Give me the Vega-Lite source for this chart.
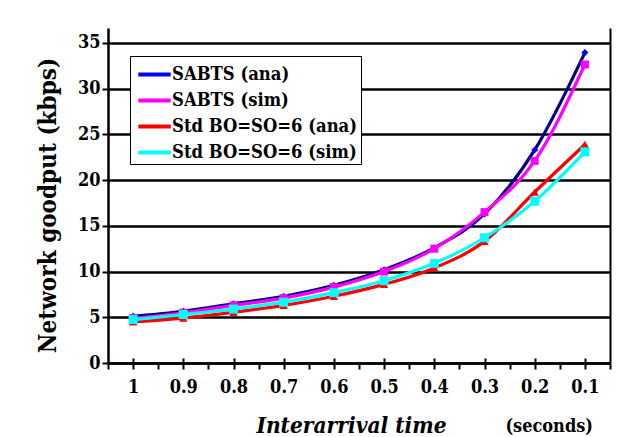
{
  "$schema": "https://vega.github.io/schema/vega-lite/v6.json",
  "width": 502,
  "height": 335,
  "autosize": "none",
  "padding": {"left": 108, "top": 28, "right": 24, "bottom": 74},
  "background": "white",
  "title": {"text": "(seconds)", "orient": "bottom", "anchor": "end", "frame": "group", "font": "DejaVu Serif Condensed, DejaVu Serif", "fontSize": 18, "fontWeight": "bold", "color": "black", "dx": -17, "dy": -19, "offset": 0},
  "data": {"values": [
    {"x": 1, "series": "SABTS (ana)", "y": 5.11},
    {"x": 0.9, "series": "SABTS (ana)", "y": 5.66},
    {"x": 0.8, "series": "SABTS (ana)", "y": 6.47},
    {"x": 0.7, "series": "SABTS (ana)", "y": 7.3},
    {"x": 0.6, "series": "SABTS (ana)", "y": 8.5},
    {"x": 0.5, "series": "SABTS (ana)", "y": 10.2},
    {"x": 0.4, "series": "SABTS (ana)", "y": 12.6},
    {"x": 0.3, "series": "SABTS (ana)", "y": 16.3},
    {"x": 0.2, "series": "SABTS (ana)", "y": 23.3},
    {"x": 0.1, "series": "SABTS (ana)", "y": 33.95},
    {"x": 1, "series": "SABTS (sim)", "y": 4.9},
    {"x": 0.9, "series": "SABTS (sim)", "y": 5.5},
    {"x": 0.8, "series": "SABTS (sim)", "y": 6.3},
    {"x": 0.7, "series": "SABTS (sim)", "y": 7.1},
    {"x": 0.6, "series": "SABTS (sim)", "y": 8.3},
    {"x": 0.5, "series": "SABTS (sim)", "y": 10.0},
    {"x": 0.4, "series": "SABTS (sim)", "y": 12.5},
    {"x": 0.3, "series": "SABTS (sim)", "y": 16.5},
    {"x": 0.2, "series": "SABTS (sim)", "y": 22.1},
    {"x": 0.1, "series": "SABTS (sim)", "y": 32.65},
    {"x": 1, "series": "Std BO=SO=6 (ana)", "y": 4.5},
    {"x": 0.9, "series": "Std BO=SO=6 (ana)", "y": 4.9},
    {"x": 0.8, "series": "Std BO=SO=6 (ana)", "y": 5.55},
    {"x": 0.7, "series": "Std BO=SO=6 (ana)", "y": 6.3},
    {"x": 0.6, "series": "Std BO=SO=6 (ana)", "y": 7.3},
    {"x": 0.5, "series": "Std BO=SO=6 (ana)", "y": 8.6},
    {"x": 0.4, "series": "Std BO=SO=6 (ana)", "y": 10.4},
    {"x": 0.3, "series": "Std BO=SO=6 (ana)", "y": 13.3},
    {"x": 0.2, "series": "Std BO=SO=6 (ana)", "y": 18.7},
    {"x": 0.1, "series": "Std BO=SO=6 (ana)", "y": 23.9},
    {"x": 1, "series": "Std BO=SO=6 (sim)", "y": 4.75},
    {"x": 0.9, "series": "Std BO=SO=6 (sim)", "y": 5.3},
    {"x": 0.8, "series": "Std BO=SO=6 (sim)", "y": 5.9},
    {"x": 0.7, "series": "Std BO=SO=6 (sim)", "y": 6.65},
    {"x": 0.6, "series": "Std BO=SO=6 (sim)", "y": 7.7},
    {"x": 0.5, "series": "Std BO=SO=6 (sim)", "y": 9.0},
    {"x": 0.4, "series": "Std BO=SO=6 (sim)", "y": 10.9},
    {"x": 0.3, "series": "Std BO=SO=6 (sim)", "y": 13.7},
    {"x": 0.2, "series": "Std BO=SO=6 (sim)", "y": 17.7},
    {"x": 0.1, "series": "Std BO=SO=6 (sim)", "y": 23.1}
  ]},
  "layer": [
    {
      "mark": {"type": "line", "interpolate": "monotone", "strokeWidth": 3.2},
      "encoding": {
        "x": {"field": "x", "type": "quantitative", "scale": {"domain": [0.05, 1.05], "reverse": true, "nice": false, "zero": false},
          "axis": {"orient": "bottom", "values": [1.05, 1, 0.95, 0.9, 0.85, 0.8, 0.75, 0.7, 0.65, 0.6, 0.55, 0.5, 0.45, 0.4, 0.35, 0.3, 0.25, 0.2, 0.15, 0.1, 0.05],
            "format": "~g",
            "labelExpr": "indexof(['1','0.9','0.8','0.7','0.6','0.5','0.4','0.3','0.2','0.1'], datum.label) >= 0 ? datum.label : ''",
            "grid": false, "domainColor": "black", "domainWidth": 2.5, "tickColor": "black", "tickWidth": 2, "tickSize": 6,
            "labelFont": "DejaVu Serif Condensed, DejaVu Serif", "labelFontSize": 18, "labelFontWeight": "bold", "labelColor": "black", "labelPadding": 9,
            "labelFlush": false, "labelOverlap": false,
            "title": "Interarrival time", "titleFont": "DejaVu Serif Condensed, DejaVu Serif", "titleFontSize": 22.5, "titleFontWeight": "bold", "titleFontStyle": "italic", "titleColor": "black",
            "titleX": 243, "titleY": 69, "titleBaseline": "alphabetic", "titleAlign": "center"}},
        "y": {"field": "y", "type": "quantitative", "scale": {"domain": [0, 36.64], "nice": false},
          "axis": {"orient": "left", "values": [0, 5, 10, 15, 20, 25, 30, 35], "grid": true, "gridColor": "black", "gridWidth": 2.5, "gridOpacity": 1,
            "domainColor": "black", "domainWidth": 2.5, "tickColor": "black", "tickWidth": 2, "tickSize": 6,
            "labelFont": "DejaVu Serif Condensed, DejaVu Serif", "labelFontSize": 18, "labelFontWeight": "bold", "labelColor": "black", "labelPadding": 2,
            "title": "Network goodput (kbps)", "titleFont": "DejaVu Serif Condensed, DejaVu Serif", "titleFontSize": 24, "titleFontWeight": "bold", "titleColor": "black",
            "titleX": -60, "titleY": 177, "titleAngle": 270, "titleBaseline": "middle", "titleAlign": "center"}},
        "color": {"field": "series", "type": "nominal",
          "condition": {"test": "datum.series === 'SABTS (ana)'", "value": "#000080"},
          "scale": {"domain": ["SABTS (ana)", "SABTS (sim)", "Std BO=SO=6 (ana)", "Std BO=SO=6 (sim)"], "range": ["#0000ff", "#ff00ff", "#ff0000", "#00ffff"]},
          "legend": {"title": null, "orient": "none", "legendX": 22, "legendY": 28, "padding": 3, "fillColor": "white", "strokeColor": "black",
            "symbolType": "M-1.2,0H1.2", "symbolSize": 729, "symbolStrokeWidth": 4, "symbolOffset": 6, "labelOffset": 2,
            "labelFont": "DejaVu Serif Condensed, DejaVu Serif", "labelFontSize": 18.3, "labelFontWeight": "bold", "labelColor": "black", "labelLimit": 0, "rowPadding": 2}}
      }
    },
    {
      "transform": [{"filter": "datum.series === 'SABTS (ana)'"}],
      "mark": {"type": "point", "shape": "diamond", "filled": true, "fill": "#0000ff", "opacity": 1, "strokeWidth": 0, "size": 50},
      "encoding": {
        "x": {"field": "x", "type": "quantitative",
          "axis": {"orient": "top", "offset": -335, "values": [1, 0.9, 0.8, 0.7, 0.6, 0.5, 0.4, 0.3, 0.2, 0.1], "labels": false, "domain": false, "grid": false,
            "ticks": true, "tickSize": 5, "tickWidth": 2, "tickColor": "black", "title": null}},
        "y": {"field": "y", "type": "quantitative",
          "axis": {"orient": "right", "labels": false, "ticks": false, "grid": false, "title": null, "domainColor": "black", "domainWidth": 2}}
      }
    },
    {
      "transform": [{"filter": "datum.series === 'SABTS (sim)'"}],
      "mark": {"type": "point", "shape": "square", "filled": true, "fill": "#ff00ff", "opacity": 1, "strokeWidth": 0, "size": 64},
      "encoding": {
        "x": {"field": "x", "type": "quantitative", "axis": null},
        "y": {"field": "y", "type": "quantitative", "axis": null}
      }
    },
    {
      "transform": [{"filter": "datum.series === 'Std BO=SO=6 (ana)'"}],
      "mark": {"type": "point", "shape": "triangle-up", "filled": true, "fill": "#ff0000", "opacity": 1, "strokeWidth": 0, "size": 70},
      "encoding": {
        "x": {"field": "x", "type": "quantitative", "axis": null},
        "y": {"field": "y", "type": "quantitative", "axis": null}
      }
    },
    {
      "transform": [{"filter": "datum.series === 'Std BO=SO=6 (sim)'"}],
      "mark": {"type": "point", "shape": "square", "filled": true, "fill": "#00ffff", "opacity": 1, "strokeWidth": 0, "size": 81},
      "encoding": {
        "x": {"field": "x", "type": "quantitative", "axis": null},
        "y": {"field": "y", "type": "quantitative", "axis": null}
      }
    }
  ],
  "resolve": {"axis": {"x": "independent", "y": "independent"}},
  "config": {"view": {"stroke": null}, "font": "DejaVu Serif Condensed, DejaVu Serif"}
}
